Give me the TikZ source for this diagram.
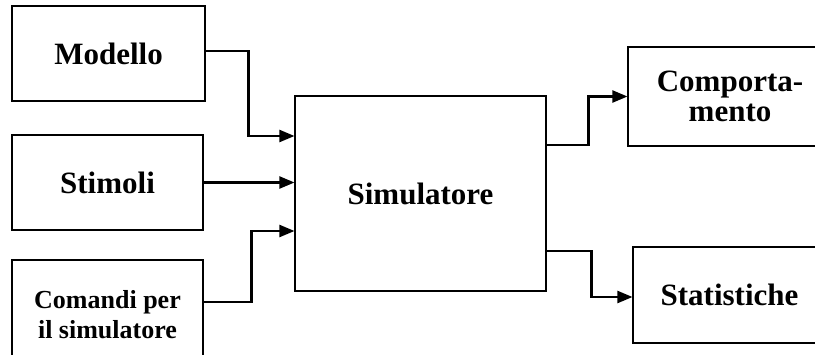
\documentclass[tikz,border=0pt]{standalone}
\usepackage{fontspec}
\setmainfont{Liberation Serif}
\usetikzlibrary{arrows.meta}
\begin{document}
\begin{tikzpicture}[x=1pt,y=-1pt,
  box/.style={draw, line width=1.1pt, inner sep=0pt, align=center,
    font=\fontsize{31}{28}\selectfont\bfseries},
  conn/.style={line width=2.2pt, -{Triangle[length=15pt,width=12pt]}}]
\clip (0,0) rectangle (815,354);
\node[box, minimum width=193pt, minimum height=95pt] (mod) at (108.5,53.5) {Modello};
\node[box, minimum width=191pt, minimum height=95pt] (stim) at (107.5,182.5) {Stimoli};
\node[box, minimum width=191pt, minimum height=110pt,
  font=\fontsize{26}{30}\selectfont\bfseries] (cmd) at (107.5,315) {Comandi per\\il simulatore};
\node[box, minimum width=251pt, minimum height=195pt] (sim) at (420.5,193.5) {Simulatore};
\node[box, minimum width=204pt, minimum height=99pt,
  font=\fontsize{31}{30}\selectfont\bfseries] (comp) at (730,96.5) {Comporta-\\mento};
\node[box, minimum width=193pt, minimum height=96pt] (stat) at (729.5,295) {Statistiche};
\draw[conn] ([yshift=2.5pt]mod.east) -- ++(43,0) |- ([yshift=57.5pt]sim.west);
\draw[conn] (stim.east) -- (stim.east -| sim.west);
\draw[conn] ([yshift=13pt]cmd.east) -- ++(48,0) |- ([yshift=-37.5pt]sim.west);
\draw[conn] ([yshift=48.5pt]sim.east) -- ++(42,0) |- (comp.west);
\draw[conn] ([yshift=-57.5pt]sim.east) -- ++(45,0) |- ([yshift=-2pt]stat.west);
\end{tikzpicture}
\end{document}
